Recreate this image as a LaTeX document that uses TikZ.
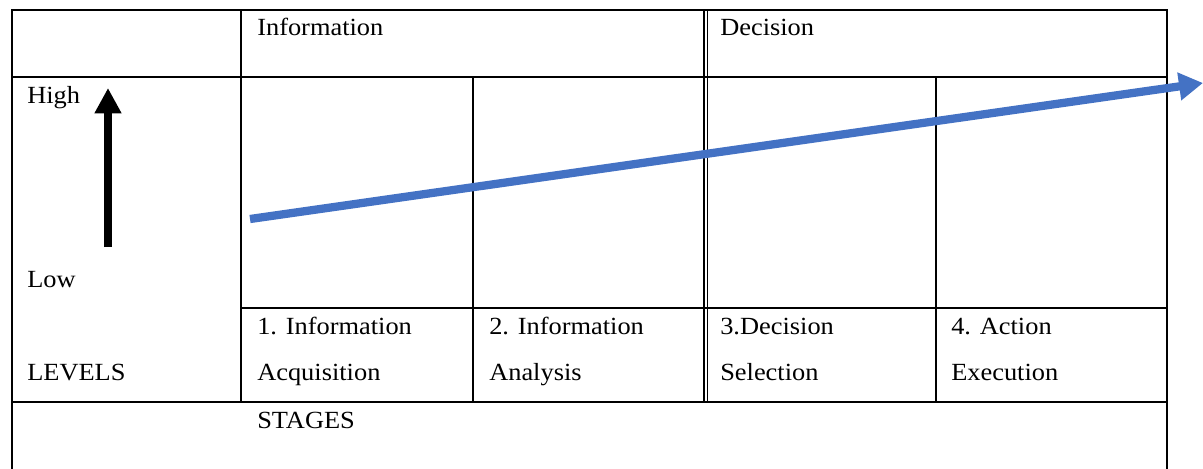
\documentclass[tikz,border=0pt]{standalone}
\usepackage{fontspec}
\setmainfont{Liberation Serif}[FakeStretch=1.07]
\usetikzlibrary{positioning, arrows, arrows.meta}
\definecolor{trendblue}{RGB}{68,114,196}
\tikzstyle{rule}=[line width=1.5pt, line cap=rect]
\tikzstyle{thinrule}=[line width=1.2pt, line cap=rect]
\tikzstyle{lbl}=[anchor=base west, inner sep=0pt, font=\fontsize{18.5}{22}\selectfont]
\tikzstyle{rise}=[line width=5.5pt, -{Triangle[length=19pt,width=19pt]}]
\tikzstyle{trend}=[draw=trendblue, line width=6.2pt, -{Triangle[length=18pt,width=20pt]}]

\begin{document}
\begin{tikzpicture}[x=0.75pt, y=-0.75pt]
    \useasboundingbox (0,0) rectangle (1203,468);
    % table frame, open at the bottom
    \draw[rule] (12,468) -- (12,10) -- (1167,10) -- (1167,468);
    \draw[rule] (12,77) -- (1167,77);
    \draw[rule] (241,308) -- (1167,308);
    \draw[rule] (12,402) -- (1167,402);
    \draw[rule] (241,10) -- (241,402);
    \draw[rule] (473,77) -- (473,402);
    \draw[rule] (936,77) -- (936,402);
    % double rule between the two halves
    \draw[thinrule] (704,10) -- (704,402);
    \draw[thinrule] (707.5,10) -- (707.5,402);

    \node[lbl] (info) at (257,35) {Information};
    \node[lbl] (dec) at (720,35) {Decision};
    \node[lbl] (high) at (27,103) {High};
    \node[lbl] (low) at (27,287) {Low};
    \node[lbl] (lev) at (27,380) {LEVELS};
    \node[lbl] (s1a) at (257,334) {1. Information};
    \node[lbl] (s1b) at (257,380) {Acquisition};
    \node[lbl] (s2a) at (489,334) {2. Information};
    \node[lbl] (s2b) at (489,380) {Analysis};
    \node[lbl] (s3a) at (720,334) {3.Decision};
    \node[lbl] (s3b) at (720,380) {Selection};
    \node[lbl] (s4a) at (951,334) {4. Action};
    \node[lbl] (s4b) at (951,380) {Execution};
    \node[lbl] (stg) at (257,428) {STAGES};

    % level arrow and trend line
    \coordinate (lo) at (108,247);
    \coordinate (hi) at (108,88);
    \draw[rise] (lo) -- (hi);
    \coordinate (t0) at (250,219);
    \coordinate (t1) at (1203,83);
    \draw[trend] (t0) -- (t1);
\end{tikzpicture}
\end{document}
